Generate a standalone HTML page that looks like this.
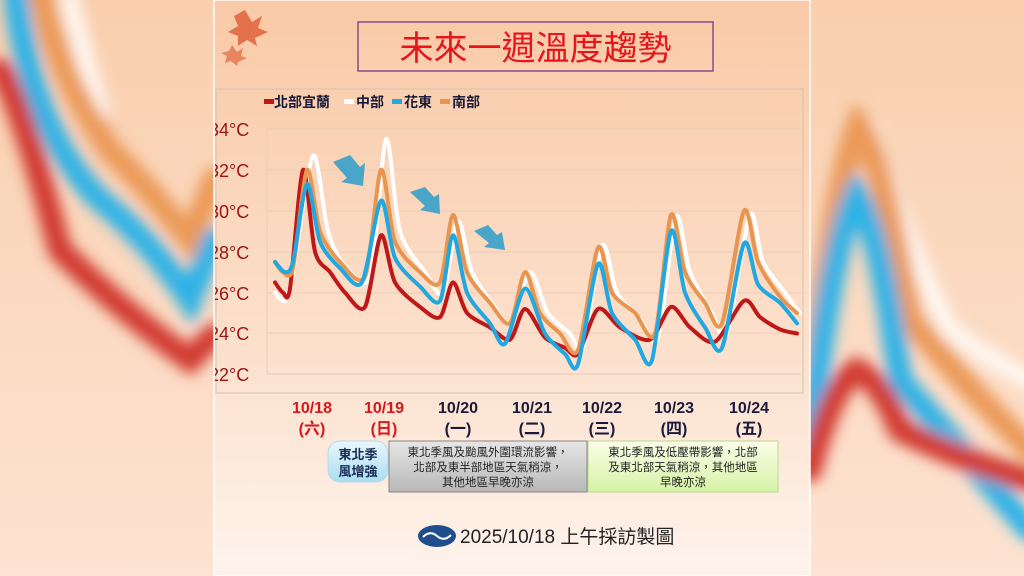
<!DOCTYPE html>
<html><head><meta charset="utf-8"><style>
body{margin:0;width:1024px;height:576px;overflow:hidden;background:#fbd9c1;font-family:"Liberation Sans","Noto Sans CJK TC",sans-serif;}
.abs{position:absolute}
</style></head><body>
<svg class="abs" style="left:0;top:0" width="1024" height="576">
<defs>
<linearGradient id="bg" x1="0" y1="0" x2="0" y2="1"><stop offset="0" stop-color="#f9cfae"/><stop offset="1" stop-color="#fde3d2"/></linearGradient>
<linearGradient id="pn" x1="0" y1="0" x2="0" y2="1"><stop offset="0" stop-color="#f9c9a6"/><stop offset="0.6" stop-color="#fce0cc"/><stop offset="1" stop-color="#fef3ec"/></linearGradient>
<filter id="bl" x="-20%" y="-20%" width="140%" height="140%"><feGaussianBlur stdDeviation="7"/></filter>
<clipPath id="pc"><rect x="215" y="0" width="595" height="576"/></clipPath>
<linearGradient id="gb" x1="0" y1="0" x2="0" y2="1"><stop offset="0" stop-color="#e6e6e6"/><stop offset="1" stop-color="#b8b8b8"/></linearGradient>
<linearGradient id="gg" x1="0" y1="0" x2="0" y2="1"><stop offset="0" stop-color="#fbfde9"/><stop offset="1" stop-color="#d5f3a6"/></linearGradient>
<linearGradient id="gp" x1="0" y1="0" x2="0" y2="1"><stop offset="0" stop-color="#eaf7fd"/><stop offset="1" stop-color="#a9dcf3"/></linearGradient>
</defs>
<rect width="1024" height="576" fill="url(#bg)"/>
<g filter="url(#bl)" fill="none" stroke-width="24" stroke-linecap="round">
<path d="M70,0 Q85,60 100,110" stroke="#fff8f2" stroke-width="18"/>
<path d="M40,-10 Q55,70 110,150 Q150,190 190,240 L214,180" stroke="#eb9a58"/>
<path d="M15,-10 Q30,130 100,200 Q150,240 190,300 L214,240" stroke="#2eb2e6"/>
<path d="M0,70 Q20,100 60,250 Q120,310 190,360 L214,335" stroke="#d13a33"/>
<path d="M870,130 Q900,230 950,330 Q990,360 1030,380" stroke="#fff8f2" stroke-width="18"/>
<path d="M810,410 Q830,200 858,125 Q880,150 910,320 Q960,380 1030,450" stroke="#eb9a58"/>
<path d="M810,440 Q830,250 856,195 Q880,230 900,380 Q960,450 1030,530" stroke="#2eb2e6"/>
<path d="M810,470 Q830,390 856,370 Q880,380 900,430 Q960,460 1030,480" stroke="#d13a33"/>
</g>
<rect x="214" y="0" width="596" height="576" fill="url(#pn)"/>
<rect x="214" y="0" width="596" height="576" fill="none" stroke="#fff" stroke-width="2" opacity="0.7"/>
<rect x="216" y="89" width="587" height="304" fill="none" stroke="#d9c0b0"/>
<g stroke="#e8cdb9" stroke-width="1">
<line x1="267" y1="129" x2="801" y2="129"/><line x1="267" y1="170" x2="801" y2="170"/><line x1="267" y1="211" x2="801" y2="211"/><line x1="267" y1="252" x2="801" y2="252"/><line x1="267" y1="293" x2="801" y2="293"/><line x1="267" y1="333" x2="801" y2="333"/><line x1="267" y1="374" x2="801" y2="374"/>
<line x1="267" y1="129" x2="267" y2="374"/>
</g>
<g font-size="18" fill="#9a1414" font-family="Liberation Sans,sans-serif" clip-path="url(#pc)">
<text x="209" y="136">34°C</text><text x="209" y="177">32°C</text><text x="209" y="218">30°C</text><text x="209" y="259">28°C</text><text x="209" y="300">26°C</text><text x="209" y="340">24°C</text><text x="209" y="381">22°C</text>
</g>
<g id="series" fill="none" stroke-width="4" stroke-linejoin="round" stroke-linecap="round"></g>
<g fill="#4aa6c8">
<path d="M333,162 L350,155 L360,167 L365,163 L363,186 L341,182 L347,178 Z"/>
<path d="M410,192 L425,187 L434,197 L439,194 L440,214 L420,210 L425,206 Z"/>
<path d="M474,231 L488,225 L497,235 L502,232 L505,250 L484,247 L489,243 Z"/>
</g>
<g fill="#e0633a" opacity="0.85">
<path d="M245,10 L252,22 L262,16 L258,28 L268,32 L255,38 L257,46 L247,40 L238,46 L238,36 L228,32 L238,26 L234,16 Z"/>
<path d="M232,45 L237,52 L243,48 L241,56 L247,58 L238,62 L237,66 L231,61 L225,63 L227,56 L221,53 L229,51 Z" opacity="0.8"/>
</g>
<rect x="358" y="22" width="355" height="49" fill="none" stroke="#8a4b8a" stroke-width="1.5"/>
<text x="535.5" y="60" text-anchor="middle" font-size="34" fill="#e8141b" font-family="Noto Sans CJK TC,sans-serif">未來一週溫度趨勢</text>
<g font-size="14" fill="#1a1a3a" font-family="Noto Sans CJK TC,sans-serif" font-weight="bold">
<rect x="264" y="99" width="10" height="5" fill="#c01818"/><text x="274" y="107">北部宜蘭</text>
<rect x="344" y="99" width="10" height="5" fill="#fff"/><text x="356" y="107">中部</text>
<rect x="392" y="99" width="10" height="5" fill="#22a8e0"/><text x="404" y="107">花東</text>
<rect x="440" y="99" width="10" height="5" fill="#e8954f"/><text x="452" y="107">南部</text>
</g>
<g font-size="16" font-weight="bold" text-anchor="middle" font-family="Liberation Sans,Noto Sans CJK TC,sans-serif">
<g fill="#d8161b"><text x="312" y="413">10/18</text><text x="312" y="434">(六)</text><text x="384" y="413">10/19</text><text x="384" y="434">(日)</text></g>
<g fill="#1a1a3a"><text x="458" y="413">10/20</text><text x="458" y="434">(一)</text><text x="532" y="413">10/21</text><text x="532" y="434">(二)</text><text x="602" y="413">10/22</text><text x="602" y="434">(三)</text><text x="674" y="413">10/23</text><text x="674" y="434">(四)</text><text x="749" y="413">10/24</text><text x="749" y="434">(五)</text></g>
</g>
<rect x="328" y="441" width="60" height="41" rx="12" fill="url(#gp)" stroke="#b5d9ea"/>
<rect x="389" y="441" width="198" height="51" fill="url(#gb)" stroke="#888"/>
<rect x="588" y="441" width="190" height="51" fill="url(#gg)" stroke="#b9d98b"/>
<g font-family="Noto Sans CJK TC,sans-serif" text-anchor="middle" fill="#1a2a50">
<text x="358" y="459" font-size="13" font-weight="bold">東北季</text><text x="358" y="476" font-size="13" font-weight="bold">風增強</text>
<g font-size="11.5" fill="#222"><text x="488" y="456">東北季風及颱風外圍環流影響，</text><text x="488" y="471">北部及東半部地區天氣稍涼，</text><text x="488" y="486">其他地區早晚亦涼</text>
<text x="683" y="456">東北季風及低壓帶影響，北部</text><text x="683" y="471">及東北部天氣稍涼，其他地區</text><text x="683" y="486">早晚亦涼</text></g>
</g>
<ellipse cx="437" cy="536" rx="19" ry="11" fill="#1f4e8c"/>
<path d="M423,537 Q430,530 437,536 Q444,542 451,535" stroke="#fff" stroke-width="2" fill="none"/>
<text x="460" y="543" font-size="19" fill="#222" font-family="Liberation Sans,Noto Sans CJK TC,sans-serif">2025/10/18 上午採訪製圖</text>
</svg>
<script>
function y(t){return 129+(34-t)*20.45;}
var S={
white:["#ffffff",[[275,26],[285,25.6],[293,27],[313,32.7],[328,29],[345,27.3],[370,26.8],[386,33.5],[400,29],[425,27],[443,26],[458,29.5],[472,27],[495,25.3],[510,24.5],[530,27],[548,25],[570,24],[583,23.3],[602,28.3],[617,26],[640,24.7],[658,23.8],[676,29.7],[690,27],[712,25],[727,24],[750,29.8],[763,27.5],[785,26],[800,25]]],
red:["#c01818",[[275,26.5],[283,26],[290,26.2],[303,32],[315,28],[330,27],[345,26],[365,25.3],[381,28.8],[395,26.5],[420,25.3],[440,24.8],[453,26.5],[467,25],[490,24.3],[510,23.7],[525,25.2],[545,23.8],[565,23.3],[578,23],[598,25.2],[620,24.3],[650,23.7],[671,25.3],[690,24.3],[715,23.6],[744,25.6],[760,24.8],[780,24.2],[797,24]]],
orange:["#e8954f",[[275,27.5],[283,27],[293,27.2],[307,32],[320,29],[340,27.5],[365,26.8],[381,32],[395,28.5],[420,27],[440,26.5],[453,29.8],[467,27],[490,25.5],[510,24.5],[525,27],[540,25],[560,24],[578,23.2],[598,28.2],[612,26],[635,25],[655,24],[671,29.8],[685,27],[705,25.5],[722,24.5],[744,30],[758,27.5],[780,25.8],[797,25]]],
blue:["#22a8e0",[[275,27.5],[285,27],[293,27.5],[307,31.3],[320,28.5],[340,27.2],[362,26.5],[381,30.5],[395,27.7],[420,26.3],[440,25.6],[453,28.8],[467,26],[490,24.5],[505,23.5],[525,26.2],[545,24],[565,23],[578,22.5],[598,27.4],[612,25],[635,23.7],[652,22.7],[671,29],[685,26],[705,24.3],[722,23.3],[744,28.4],[758,26.4],[780,25.5],[797,24.5]]]};
var g=document.getElementById('series');
["white","red","orange","blue"].forEach(function(k){var s=S[k],P=s[1].map(function(p){return [p[0],y(p[1])];}),d="M"+P[0][0]+","+P[0][1].toFixed(1);
for(var i=0;i<P.length-1;i++){var p0=P[Math.max(i-1,0)],p1=P[i],p2=P[i+1],p3=P[Math.min(i+2,P.length-1)],t=0.14;
d+="C"+(p1[0]+(p2[0]-p0[0])*t).toFixed(1)+","+(p1[1]+(p2[1]-p0[1])*t).toFixed(1)+" "+(p2[0]-(p3[0]-p1[0])*t).toFixed(1)+","+(p2[1]-(p3[1]-p1[1])*t).toFixed(1)+" "+p2[0]+","+p2[1].toFixed(1);}
var e=document.createElementNS("http://www.w3.org/2000/svg","path");e.setAttribute("d",d);e.setAttribute("stroke",s[0]);g.appendChild(e);});
</script>
</body></html>
